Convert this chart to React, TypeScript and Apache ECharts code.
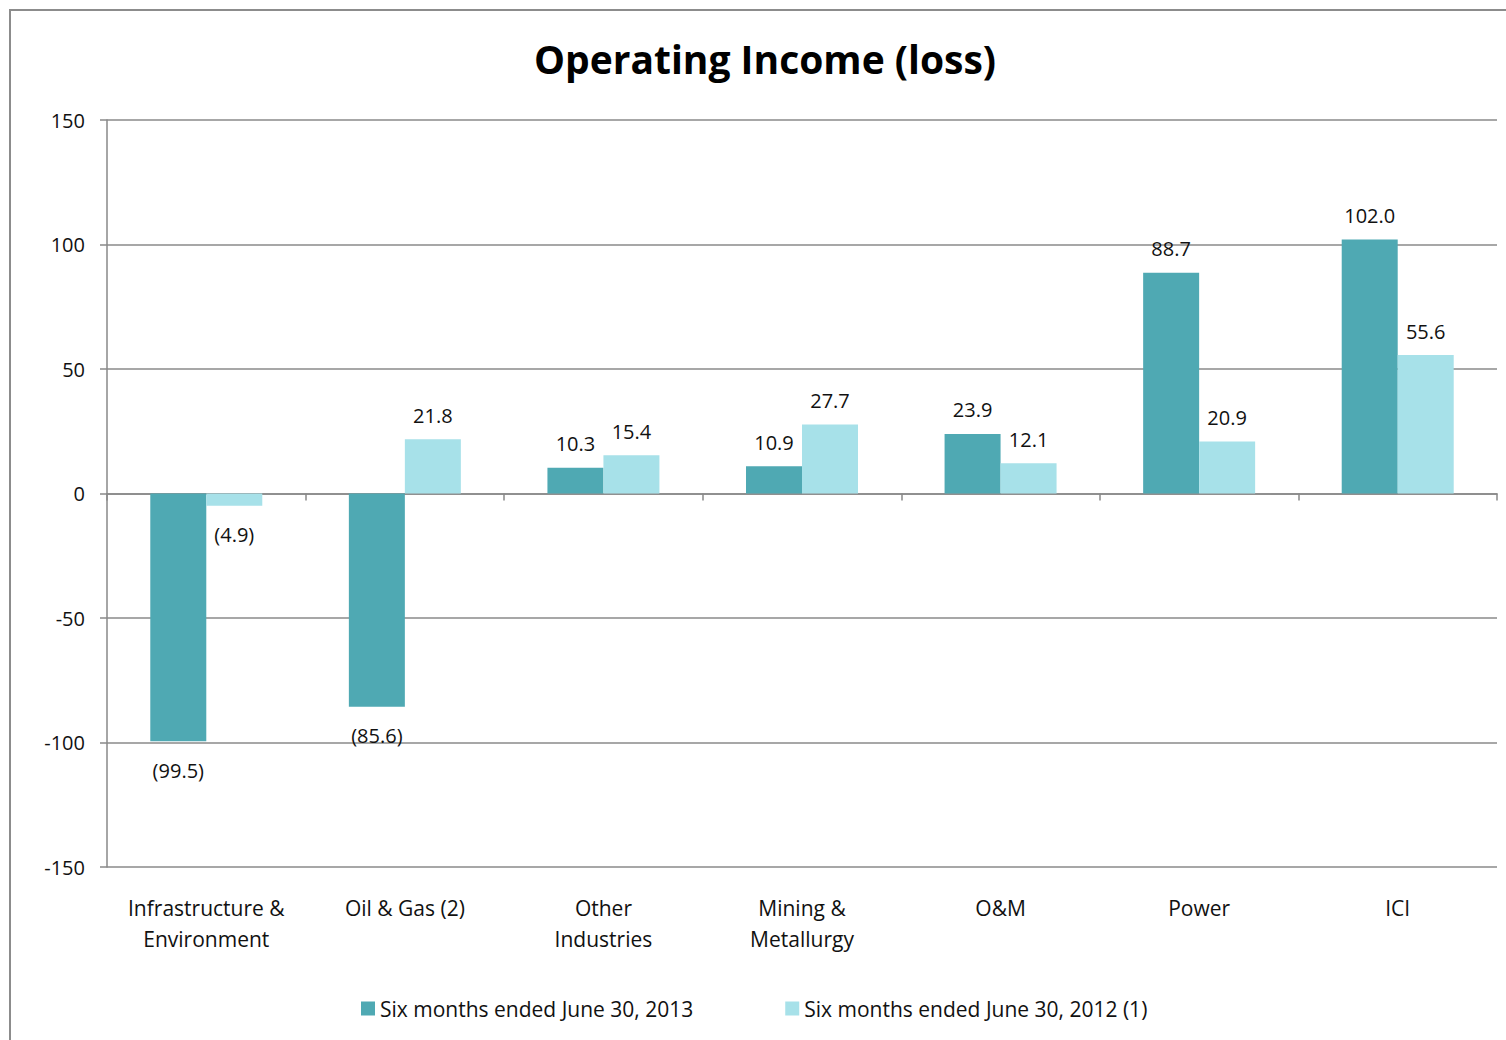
import React, { useEffect, useRef } from "react";
import * as echarts from "echarts";

const categories = ["Infrastructure &\nEnvironment", "Oil & Gas (2)", "Other\nIndustries", "Mining &\nMetallurgy", "O&M", "Power", "ICI"];
const series2013 = [-99.5, -85.6, 10.3, 10.9, 23.9, 88.7, 102.0];
const series2012 = [-4.9, 21.8, 15.4, 27.7, 12.1, 20.9, 55.6];
const seriesNames = ["Six months ended June 30, 2013", "Six months ended June 30, 2012 (1)"];
const yMin = -150;
const yMax = 150;
const yInterval = 50;

const FONT = "Open Sans";

function fmt(v: number) {
  return v < 0 ? `(${Math.abs(v).toFixed(1)})` : v.toFixed(1);
}

function buildData(values: number[]) {
  return values.map((v) => ({
    value: v,
    label: { position: v < 0 ? "bottom" : "top", distance: v < 0 ? 19 : 14 },
  }));
}

export default function App() {
  const ref = useRef<HTMLDivElement>(null);
  useEffect(() => {
    if (!ref.current) return;
    const chart = echarts.init(ref.current, null, { renderer: "svg" });
    const labelStyle = {
      show: true,
      fontFamily: FONT,
      fontSize: 20,
      color: "#111",
      formatter: (p: any) => fmt(p.value),
    };
    chart.setOption({
      animation: false,
      backgroundColor: "#fff",
      textStyle: { fontFamily: FONT },
      title: {
        text: "Operating Income (loss)",
        left: 760,
        textAlign: "center",
        top: 34,
        textStyle: { fontFamily: FONT, fontWeight: "bold", fontSize: 39, color: "#000" },
      },
      graphic: [
        {
          type: "rect",
          shape: { x: 10, y: 10, width: 1520, height: 1060 },
          style: { fill: "none", stroke: "#8c8c8c", lineWidth: 2 },
          silent: true,
          z: -1,
        },
      ],
      legend: {
        left: 356,
        top: 993,
        itemWidth: 14,
        itemHeight: 14,
        itemGap: 92,
        icon: "rect",
        textStyle: { fontFamily: FONT, fontSize: 21, color: "#111" },
        data: seriesNames,
      },
      grid: { left: 107, right: 9, top: 120, bottom: 173, containLabel: false },
      xAxis: [
        {
          type: "category",
          data: categories,
          position: "bottom",
          axisLine: { show: true, onZero: true, lineStyle: { color: "#888", width: 1.5 } },
          axisTick: { show: true, length: 7, alignWithLabel: false, lineStyle: { color: "#888", width: 1.5 } },
          axisLabel: { show: false },
          splitLine: { show: false },
        },
        {
          type: "category",
          data: categories,
          position: "bottom",
          axisLine: { show: false, onZero: false },
          axisTick: { show: false },
          axisLabel: {
            show: true,
            interval: 0,
            margin: 25,
            fontFamily: FONT,
            fontSize: 21,
            lineHeight: 31,
            color: "#111",
          },
          splitLine: { show: false },
        },
      ],
      yAxis: {
        type: "value",
        min: yMin,
        max: yMax,
        interval: yInterval,
        axisLine: { show: true, lineStyle: { color: "#888", width: 1.5 } },
        axisTick: { show: true, length: 7, lineStyle: { color: "#888", width: 1.5 } },
        axisLabel: { margin: 22, fontFamily: FONT, fontSize: 20, color: "#111" },
        splitLine: { show: true, lineStyle: { color: "#8a8a8a", width: 1.5 } },
      },
      series: [
        {
          name: seriesNames[0],
          type: "bar",
          xAxisIndex: 0,
          data: buildData(series2013),
          barGap: "0%",
          barCategoryGap: "43.6%",
          itemStyle: { color: "#4FA9B3" },
          label: labelStyle,
        },
        {
          name: seriesNames[1],
          type: "bar",
          xAxisIndex: 0,
          data: buildData(series2012),
          barGap: "0%",
          barCategoryGap: "43.6%",
          itemStyle: { color: "#A7E1E9" },
          label: labelStyle,
        },
      ],
    });
    return () => chart.dispose();
  }, []);
  return (
    <div
      ref={ref}
      style={{ position: "fixed", left: 0, top: 0, width: 1506, height: 1040, background: "#fff" }}
    />
  );
}
